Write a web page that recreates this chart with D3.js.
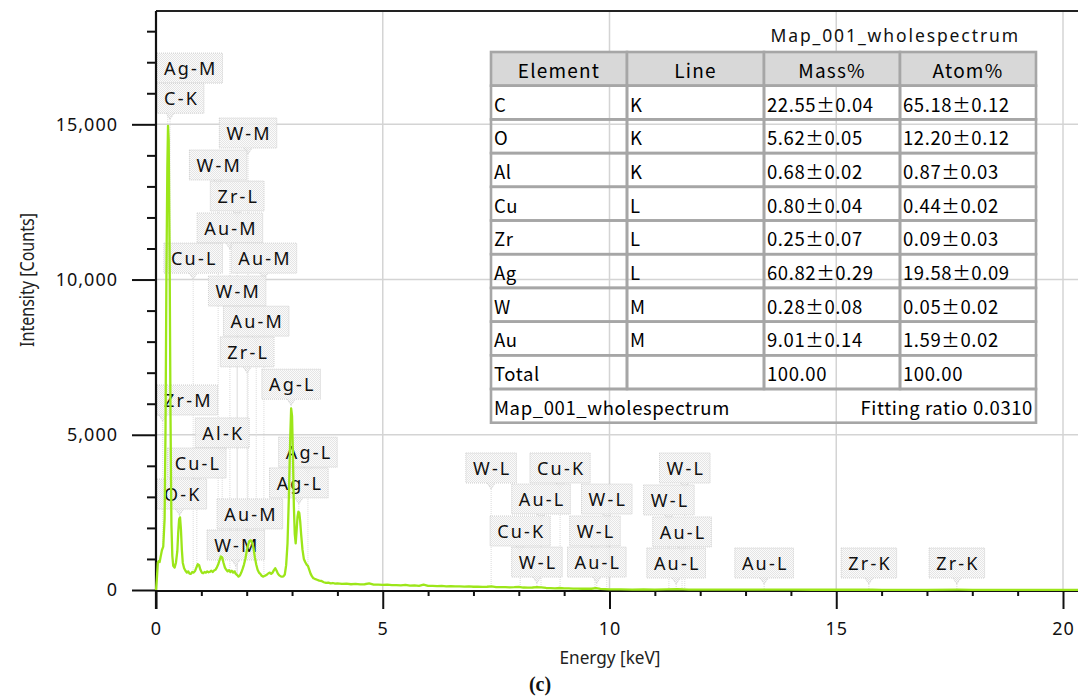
<!DOCTYPE html>
<html>
<head>
<meta charset="utf-8">
<script src="https://cdn.jsdelivr.net/npm/d3@7"></script>
<style>
  html, body { margin: 0; padding: 0; background: #fff; }
  svg { display: block; }
</style>
</head>
<body>
<svg id="chart" width="1078" height="697"></svg>
<script>
// ---- EDS spectrum (energy in keV, intensity in counts) ----
const energy = [
  0.00, 0.02, 0.04, 0.06, 0.08, 0.10, 0.13, 0.16, 0.19, 0.21, 0.23, 0.25, 0.265, 0.28, 0.30, 0.32, 0.34, 0.36, 0.38,
  0.41, 0.44, 0.47, 0.49, 0.51, 0.53, 0.55, 0.57, 0.59, 0.62, 0.65, 0.68, 0.71, 0.74, 0.77, 0.80, 0.83, 0.86, 0.89,
  0.92, 0.95, 0.98, 1.01, 1.04, 1.07, 1.10, 1.13, 1.16, 1.19, 1.22, 1.25, 1.28, 1.31, 1.34, 1.37, 1.40, 1.43, 1.46,
  1.49, 1.52, 1.55, 1.58, 1.61, 1.64, 1.67, 1.70, 1.73, 1.76, 1.79, 1.82, 1.85, 1.88, 1.91, 1.94, 1.97, 2.00, 2.03,
  2.06, 2.09, 2.12, 2.15, 2.18, 2.21, 2.24, 2.27, 2.30, 2.33, 2.36, 2.39, 2.42, 2.45, 2.48, 2.51, 2.54, 2.57, 2.60,
  2.63, 2.66, 2.69, 2.72, 2.75, 2.78, 2.81, 2.84, 2.87, 2.90, 2.93, 2.96, 2.98, 3.00, 3.02, 3.04, 3.06, 3.08, 3.10,
  3.12, 3.14, 3.16, 3.18, 3.20, 3.23, 3.26, 3.29, 3.32, 3.35, 3.38, 3.41, 3.44, 3.47, 3.50, 3.55, 3.60, 3.65, 3.70,
  3.75, 3.80, 3.85, 3.90, 3.95, 4.00, 4.10, 4.20, 4.30, 4.40, 4.50, 4.60, 4.70, 4.80, 4.90, 5.00, 5.10, 5.20, 5.30,
  5.40, 5.50, 5.60, 5.70, 5.80, 5.90, 6.00, 6.10, 6.20, 6.30, 6.40, 6.50, 6.60, 6.70, 6.80, 6.90, 7.00, 7.10, 7.20,
  7.30, 7.40, 7.50, 7.60, 7.70, 7.80, 7.90, 8.00, 8.10, 8.20, 8.30, 8.40, 8.50, 8.60, 8.70, 8.80, 8.90, 9.00, 9.10,
  9.20, 9.30, 9.40, 9.50, 9.60, 9.70, 9.80, 9.90, 10.00, 10.25, 10.50, 10.75, 11.00, 11.25, 11.50, 11.75, 12.00,
  12.50, 13.00, 13.40, 13.75, 14.00, 14.50, 15.00, 15.50, 15.80, 16.00, 16.50, 17.00, 17.70, 18.00, 18.50, 19.00,
  19.50, 20.00, 20.50
];
const counts = [
  0, 380, 880, 930, 900, 1050, 1280, 1400, 2300, 5200, 10200, 13600, 14950, 14500, 10800, 5600, 2100, 1100, 780,
  720, 880, 1250, 1850, 2280, 2340, 1950, 1300, 880, 700, 620, 560, 600, 530, 520, 580, 560, 610, 720,
  830, 800, 650, 560, 540, 580, 560, 600, 570, 590, 620, 580, 630, 650, 720, 820, 950, 1080, 1050,
  870, 720, 650, 600, 640, 580, 620, 560, 600, 520, 480, 430, 470, 560, 680, 820, 1000, 1250, 1450,
  1580, 1600, 1520, 1350, 1050, 820, 650, 560, 520, 460, 430, 450, 470, 500, 540, 560, 520, 560, 640,
  700, 620, 520, 470, 440, 430, 440, 500, 800, 1500, 3000, 4900, 5850, 5600, 4300, 2700, 1800, 1500, 1900,
  2350, 2520, 2480, 2200, 1800, 1300, 1000, 900, 820, 780, 650, 520, 440, 380, 360, 330, 300, 290, 250,
  230, 240, 215, 225, 205, 215, 195, 205, 185, 200, 180, 185, 210, 175, 170, 165, 175, 155, 160,
  150, 165, 140, 150, 135, 170, 130, 135, 125, 130, 120, 125, 115, 120, 110, 115, 105, 110, 100,
  105, 115, 95, 90, 95, 85, 90, 100, 80, 75, 80, 95, 85, 65, 60, 55, 65, 50, 50,
  45, 45, 40, 45, 40, 60, 35, 30, 20, 18, 15, 16, 14, 20, 25, 14, 12,
  11, 10, 14, 9, 9, 8, 8, 8, 12, 7, 7, 6, 9, 6, 5, 5,
  5, 4, 4
];

// ---- Identified X-ray lines: name, line energy (keV), label height (counts) ----
const peakNames = [
  "Ag-M", "C-K", "W-M", "W-M", "Zr-L", "Au-M", "Cu-L", "Au-M", "W-M", "Au-M", "Zr-L", "Ag-L",
  "Zr-M", "Al-K", "Cu-L", "O-K", "Au-M", "W-M", "Ag-L", "Ag-L",
  "W-L", "Cu-K", "Au-L", "W-L", "W-L", "W-L", "Cu-K", "W-L", "Au-L", "W-L", "Au-L", "Au-L",
  "Au-L", "Zr-K", "Zr-K"
];
const peakKeV = [
  0.26, 0.31, 2.03, 1.37, 1.79, 1.63, 0.82, 2.38, 1.79, 2.21, 2.01, 2.98,
  0.15, 1.46, 0.90, 0.52, 2.07, 1.76, 3.35, 3.15,
  7.39, 8.91, 8.49, 9.94, 11.66, 11.31, 8.03, 9.68, 11.60, 8.40, 9.72, 11.47,
  13.41, 15.72, 17.66
];
const peakLabelCounts = [
  16810, 15840, 14720, 13690, 12690, 11660, 10690, 10690, 9630, 8660, 7670, 6630,
  6120, 5060, 4090, 3090, 2450, 1450, 4440, 3450,
  3930, 3930, 2930, 2930, 3930, 2900, 1900, 1900, 1870, 900, 900, 870,
  870, 870, 870
];

// ---- Quantification table ----
const tableTitle = "Map_001_wholespectrum";
const tableHeader = ["Element", "Line", "Mass%", "Atom%"];
const elements = ["C", "O", "Al", "Cu", "Zr", "Ag", "W", "Au"];
const lines = ["K", "K", "K", "L", "L", "L", "M", "M"];
const massPct = [22.55, 5.62, 0.68, 0.80, 0.25, 60.82, 0.28, 9.01];
const massErr = [0.04, 0.05, 0.02, 0.04, 0.07, 0.29, 0.08, 0.14];
const atomPct = [65.18, 12.20, 0.87, 0.44, 0.09, 19.58, 0.05, 1.59];
const atomErr = [0.12, 0.12, 0.03, 0.02, 0.03, 0.09, 0.02, 0.02];
const totals = ["Total", "", "100.00", "100.00"];
const fittingRatio = 0.0310;

// ---- Axis ticks ----
const xMajorTicks = [0, 5, 10, 15, 20];
const xMinorTicks = [1, 2, 3, 4, 6, 7, 8, 9, 11, 12, 13, 14, 16, 17, 18, 19];
const yMajorTicks = [0, 5000, 10000, 15000];
const yMinorTicks = [1000, 2000, 3000, 4000, 6000, 7000, 8000, 9000, 11000, 12000, 13000, 14000, 16000, 17000, 18000];

// ---- Layout ----
const W = 1078, H = 697;
const plotLeft = 156, plotTop = 11;
const pxPerKeV = 45.35;
const x = d3.scaleLinear().domain([0, 20.5]).range([plotLeft, plotLeft + 20.5 * pxPerKeV]);
const y = d3.scaleLinear().domain([0, 18650]).range([590, plotTop]);
const plotRight = W;
const plotBottom = y(0);
const traceColor = "#9ce619";

const svg = d3.select("#chart");
const defs = svg.append("defs");
const pat = defs.append("pattern").attr("id", "dots")
  .attr("width", 2).attr("height", 2).attr("patternUnits", "userSpaceOnUse");
pat.append("rect").attr("width", 2).attr("height", 2).attr("fill", "#fafafa");
pat.append("rect").attr("width", 1).attr("height", 1).attr("fill", "#e1e1e1");
pat.append("rect").attr("x", 1).attr("y", 1).attr("width", 1).attr("height", 1).attr("fill", "#e1e1e1");

const labelFont = "'Noto Sans', sans-serif";
const tableFont = "'Noto Sans CJK JP', 'Noto Sans', sans-serif";

// ---- Grid ----
const grid = svg.append("g");
grid.selectAll("line.v").data(xMajorTicks.filter(d => d > 0)).join("line")
  .attr("x1", d => x(d)).attr("x2", d => x(d))
  .attr("y1", plotTop).attr("y2", plotBottom)
  .attr("stroke", "#d4d4d4").attr("stroke-width", 1.5);
grid.selectAll("line.h").data(yMajorTicks.filter(d => d > 0)).join("line")
  .attr("x1", plotLeft).attr("x2", plotRight)
  .attr("y1", d => y(d)).attr("y2", d => y(d))
  .attr("stroke", "#d4d4d4").attr("stroke-width", 1.5);

// ---- Peak markers: leader lines, boxes, labels ----
const spectrumAt = e => {
  const i = d3.bisectLeft(energy, e);
  if (i <= 0) return counts[0];
  if (i >= energy.length) return counts[counts.length - 1];
  const t = (e - energy[i - 1]) / (energy[i] - energy[i - 1]);
  return counts[i - 1] + t * (counts[i] - counts[i - 1]);
};

const markers = svg.append("g");
const boxH = 30;
const peaks = peakNames.map((name, i) => ({ name, keV: peakKeV[i], c: peakLabelCounts[i] }));

const leaderG = markers.append("g");
const boxG = markers.append("g");
const textG = markers.append("g");

peaks.forEach(p => {
  const t = textG.append("text")
    .attr("font-family", labelFont).attr("font-size", 18)
    .attr("letter-spacing", "2.2px")
    .attr("fill", "#111")
    .attr("text-anchor", "middle")
    .attr("dominant-baseline", "central")
    .text(p.name);
  const tw = t.node().getComputedTextLength();
  const bw = tw + 12;
  const px = x(p.keV);
  const cx = Math.max(px, plotLeft + 1 + bw / 2);
  const cy = y(p.c);
  t.attr("x", cx + 1.1).attr("y", cy);
  const by = cy - boxH / 2;
  boxG.append("rect")
    .attr("x", cx - bw / 2).attr("y", by)
    .attr("width", bw).attr("height", boxH)
    .attr("fill", "url(#dots)").attr("fill-opacity", 0.85)
    .attr("stroke", "#cfcfcf").attr("stroke-width", 1)
    .attr("stroke-dasharray", "1,1");
  // pointer under the box
  const pb = by + boxH;
  boxG.append("path")
    .attr("d", `M${px - 4},${pb} L${px},${pb + 6} L${px + 4},${pb}`)
    .attr("fill", "url(#dots)")
    .attr("stroke", "#cfcfcf").attr("stroke-width", 1)
    .attr("stroke-dasharray", "1,1");
  // leader down to the spectrum
  leaderG.append("line")
    .attr("x1", px).attr("x2", px)
    .attr("y1", pb + 6).attr("y2", y(spectrumAt(p.keV)))
    .attr("stroke", "#dadada").attr("stroke-width", 1)
    .attr("stroke-dasharray", "1,1");
});

// ---- Spectrum ----
const line = d3.line()
  .x((d, i) => x(energy[i]))
  .y((d, i) => y(counts[i]));

// ---- Axes ----
const yAxisMajor = d3.axisLeft(y).tickValues(yMajorTicks).tickSize(24).tickPadding(14)
  .tickFormat(d3.format(","));
const yAxisMinor = d3.axisLeft(y).tickValues(yMinorTicks).tickSize(9).tickFormat("");
const xAxisMajor = d3.axisBottom(x).tickValues(xMajorTicks).tickSize(19).tickPadding(13)
  .tickFormat(d3.format("d"));
const xAxisMinor = d3.axisBottom(x).tickValues(xMinorTicks).tickSize(6).tickFormat("");

function styleAxis(g) {
  g.select(".domain").remove();
  g.selectAll(".tick line").attr("stroke", "#111").attr("stroke-width", 2);
  g.selectAll(".tick text")
    .attr("font-family", labelFont).attr("font-size", 18)
    .attr("letter-spacing", "1px")
    .attr("fill", "#111");
}
svg.append("g").attr("transform", `translate(${plotLeft},0)`).call(yAxisMajor).call(styleAxis);
svg.append("g").attr("transform", `translate(${plotLeft},0)`).call(yAxisMinor).call(styleAxis);
svg.append("g").attr("transform", `translate(0,${plotBottom})`).call(xAxisMajor).call(styleAxis);
svg.append("g").attr("transform", `translate(0,${plotBottom})`).call(xAxisMinor).call(styleAxis);

// frame
svg.append("line").attr("x1", plotLeft).attr("x2", plotRight).attr("y1", plotTop).attr("y2", plotTop)
  .attr("stroke", "#222").attr("stroke-width", 2.2);
svg.append("line").attr("x1", plotLeft).attr("x2", plotLeft).attr("y1", plotTop).attr("y2", plotBottom + 19)
  .attr("stroke", "#111").attr("stroke-width", 2.2);
svg.append("line").attr("x1", plotLeft).attr("x2", plotRight).attr("y1", plotBottom + 1).attr("y2", plotBottom + 1)
  .attr("stroke", "#111").attr("stroke-width", 2);

// spectrum trace drawn over the baseline
svg.append("path")
  .datum(counts)
  .attr("d", line)
  .attr("fill", "none")
  .attr("stroke", traceColor)
  .attr("stroke-width", 2.3)
  .attr("stroke-linejoin", "round");

// axis titles
svg.append("text")
  .attr("x", 610).attr("y", 657)
  .attr("text-anchor", "middle").attr("dominant-baseline", "central")
  .attr("font-family", labelFont).attr("font-size", 17.5).attr("fill", "#222")
  .attr("textLength", 101).attr("lengthAdjust", "spacingAndGlyphs")
  .text("Energy [keV]");
svg.append("text")
  .attr("transform", "translate(27,280) rotate(-90)")
  .attr("text-anchor", "middle").attr("dominant-baseline", "central")
  .attr("font-family", labelFont).attr("font-size", 19).attr("fill", "#222")
  .attr("textLength", 134).attr("lengthAdjust", "spacingAndGlyphs")
  .text("Intensity [Counts]");
svg.append("text")
  .attr("x", 540).attr("y", 684)
  .attr("text-anchor", "middle").attr("dominant-baseline", "central")
  .attr("font-family", "'Liberation Serif', serif").attr("font-weight", "bold")
  .attr("font-size", 20).attr("fill", "#111")
  .text("(c)");

// ---- Table ----
const tbl = svg.append("g");
const colX = [491, 627, 764, 900, 1036];
const rowTop = 52, rowH = 33.7;
const tableFontSize = 18.5;

tbl.append("text")
  .attr("x", 1020).attr("y", 35)
  .attr("text-anchor", "end").attr("dominant-baseline", "central")
  .attr("font-family", labelFont).attr("font-size", 17.5).attr("letter-spacing", "1.9px")
  .attr("fill", "#111")
  .text(tableTitle);

const rows = [tableHeader];
elements.forEach((el, i) => {
  rows.push([
    el, lines[i],
    `${massPct[i].toFixed(2)}±${massErr[i].toFixed(2)}`,
    `${atomPct[i].toFixed(2)}±${atomErr[i].toFixed(2)}`
  ]);
});
rows.push(totals);

const cellStroke = "#a6a6a6";
rows.forEach((r, ri) => {
  const ty = rowTop + ri * rowH;
  r.forEach((v, ci) => {
    tbl.append("rect")
      .attr("x", colX[ci]).attr("y", ty)
      .attr("width", colX[ci + 1] - colX[ci]).attr("height", rowH)
      .attr("fill", ri === 0 ? "#d8d8d8" : "none")
      .attr("stroke", cellStroke).attr("stroke-width", 2.6);
    const t = tbl.append("text")
      .attr("y", ty + rowH / 2 + 1)
      .attr("dominant-baseline", "central")
      .attr("font-family", tableFont).attr("font-size", ri === 0 ? 19 : tableFontSize)
      .attr("letter-spacing", ri === 0 ? "1.2px" : "0.6px")
      .attr("fill", "#000")
      .text(v);
    if (ri === 0) {
      t.attr("x", (colX[ci] + colX[ci + 1]) / 2).attr("text-anchor", "middle");
    } else {
      t.attr("x", colX[ci] + 3);
    }
  });
});
// footer row spanning the table
const fy = rowTop + rows.length * rowH;
tbl.append("rect")
  .attr("x", colX[0]).attr("y", fy)
  .attr("width", colX[4] - colX[0]).attr("height", rowH)
  .attr("fill", "none").attr("stroke", cellStroke).attr("stroke-width", 2.6);
tbl.append("text")
  .attr("x", colX[0] + 3).attr("y", fy + rowH / 2 + 1)
  .attr("dominant-baseline", "central")
  .attr("font-family", tableFont).attr("font-size", tableFontSize)
  .attr("letter-spacing", "0.6px")
  .text(tableTitle);
tbl.append("text")
  .attr("x", colX[4] - 3).attr("y", fy + rowH / 2 + 1)
  .attr("text-anchor", "end").attr("dominant-baseline", "central")
  .attr("font-family", tableFont).attr("font-size", tableFontSize)
  .attr("letter-spacing", "0.6px")
  .text(`Fitting ratio ${fittingRatio.toFixed(4)}`);
</script>
</body>
</html>
